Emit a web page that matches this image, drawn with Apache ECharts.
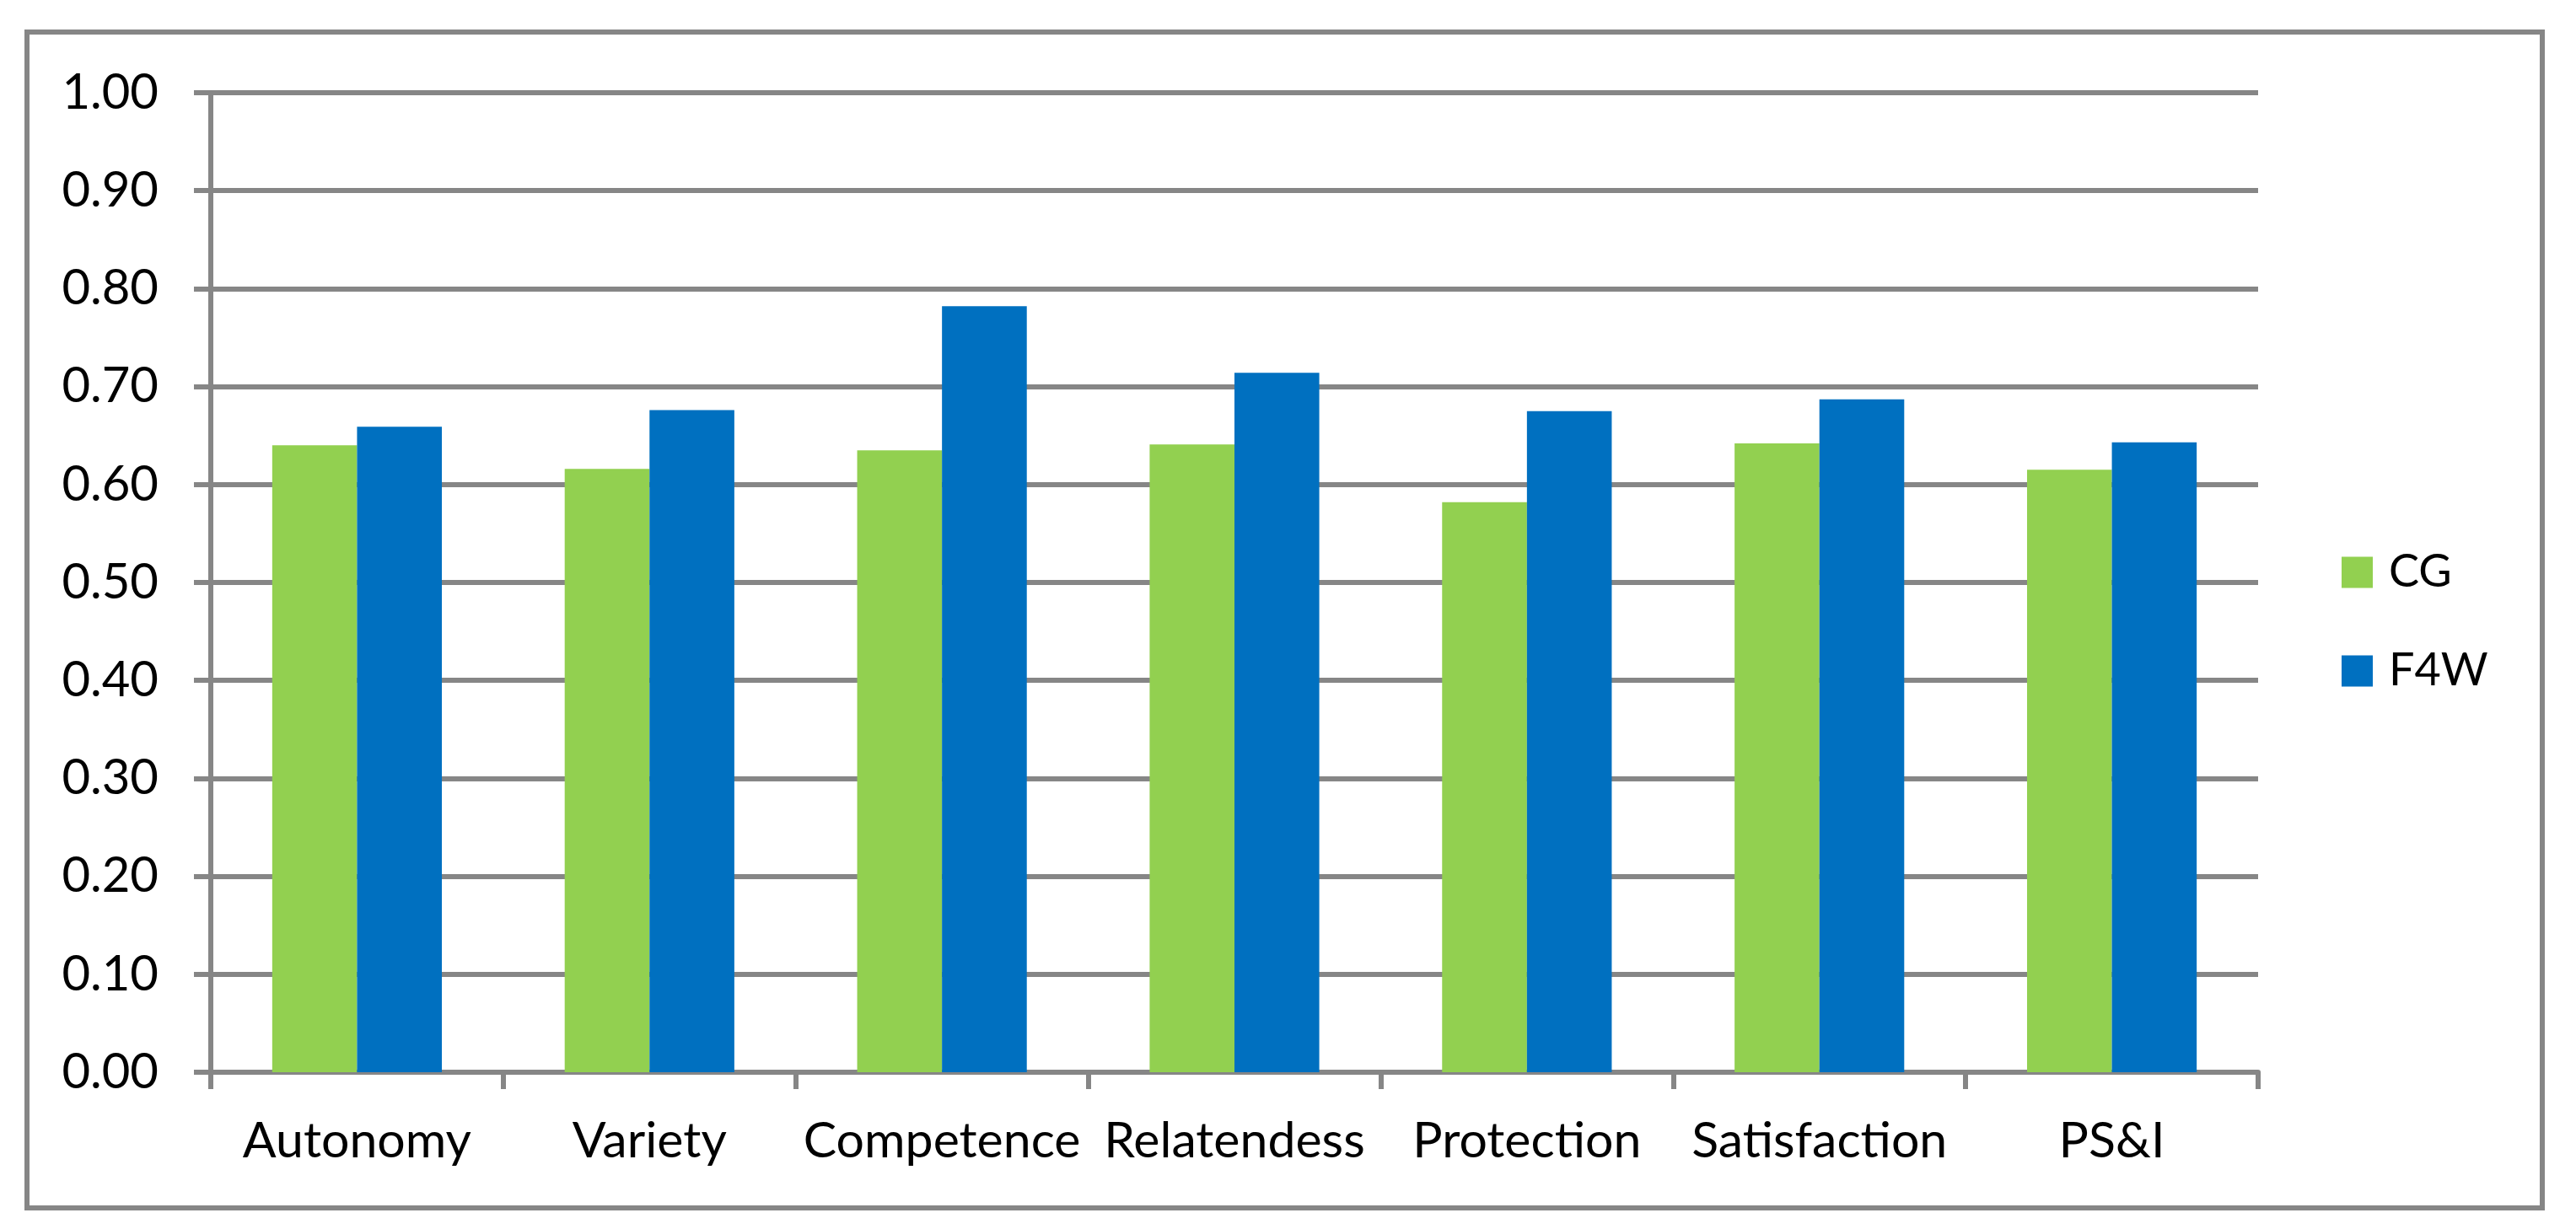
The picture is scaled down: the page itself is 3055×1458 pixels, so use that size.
<!DOCTYPE html>
<html>
<head>
<meta charset="utf-8">
<script src="https://cdn.jsdelivr.net/npm/echarts@6/dist/echarts.min.js"></script>
<style>
html,body{margin:0;padding:0;background:#fff;}
#chart{width:3055px;height:1458px;}
</style>
</head>
<body>
<div id="chart"></div>
<script>
const categories = ['Autonomy', 'Variety', 'Competence', 'Relatendess', 'Protection', 'Satisfaction', 'PS&I'];
const seriesNames = ['CG', 'F4W'];
const cgValues = [0.640, 0.616, 0.635, 0.641, 0.582, 0.642, 0.615];
const f4wValues = [0.659, 0.676, 0.782, 0.714, 0.675, 0.687, 0.643];
const yTicks = { min: 0, max: 1, interval: 0.1 };

const gray = '#868686';
const font = 'Lato';
const chart = echarts.init(document.getElementById('chart'));
chart.setOption({
  backgroundColor: '#ffffff',
  animation: false,
  graphic: [{
    type: 'rect',
    z: -10,
    shape: { x: 32, y: 38, width: 2983, height: 1395 },
    style: { fill: 'none', stroke: gray, lineWidth: 6 }
  }],
  grid: { left: 250, right: 377, top: 110, bottom: 186, containLabel: false },
  legend: {
    orient: 'vertical',
    left: 2777,
    top: 652,
    padding: 0,
    itemWidth: 37,
    itemHeight: 37,
    itemGap: 63,
    icon: 'rect',
    textStyle: { fontFamily: font, fontSize: 54, color: '#000', padding: [0, 0, 0, 14] },
    data: seriesNames
  },
  xAxis: {
    type: 'category',
    data: categories,
    axisLine: { lineStyle: { color: gray, width: 6 } },
    axisTick: { show: true, length: 20, lineStyle: { color: gray, width: 6 } },
    axisLabel: { interval: 0, margin: 52, fontFamily: font, fontSize: 59, color: '#000' },
    splitLine: { show: false }
  },
  yAxis: {
    type: 'value',
    min: yTicks.min,
    max: yTicks.max,
    interval: yTicks.interval,
    axisLine: { show: true, lineStyle: { color: gray, width: 6 } },
    axisTick: { show: true, length: 20, lineStyle: { color: gray, width: 6 } },
    axisLabel: { margin: 62, fontFamily: font, fontSize: 58, color: '#000', formatter: v => v.toFixed(2) },
    splitLine: { show: true, lineStyle: { color: gray, width: 6 } }
  },
  series: [
    { name: seriesNames[0], type: 'bar', data: cgValues, itemStyle: { color: '#92D050' }, barGap: '0%', barCategoryGap: '42%' },
    { name: seriesNames[1], type: 'bar', data: f4wValues, itemStyle: { color: '#0070C0' }, barGap: '0%', barCategoryGap: '42%' }
  ]
});
</script>
</body>
</html>
